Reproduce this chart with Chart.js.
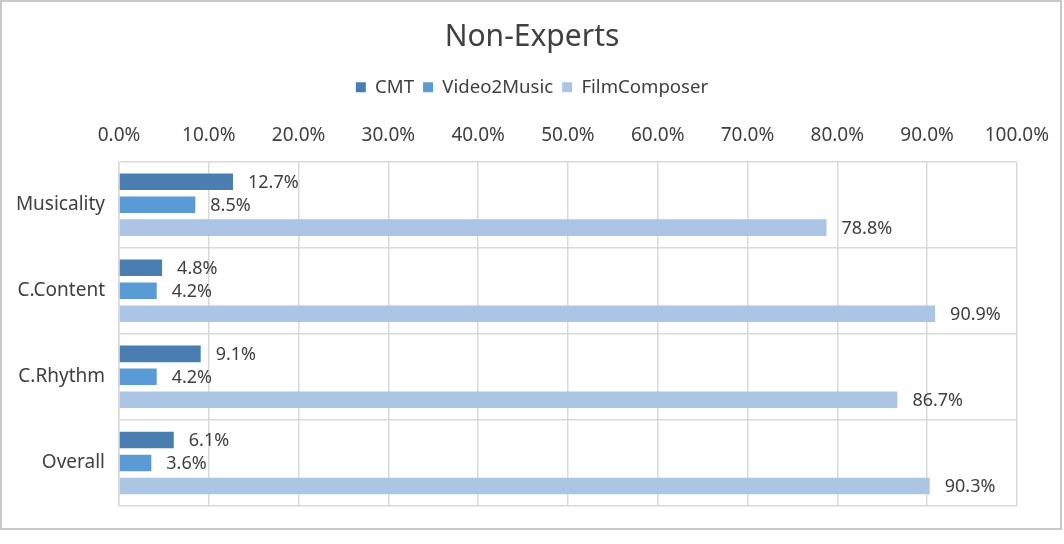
<!DOCTYPE html>
<html>
<head>
<meta charset="utf-8">
<script src="https://cdn.jsdelivr.net/npm/chart.js@4.4.1/dist/chart.umd.min.js"></script>
<style>
  html, body { margin: 0; padding: 0; background: #ffffff; }
  #wrap { position: relative; width: 1064px; height: 544px; }
</style>
</head>
<body>
<div id="wrap"><canvas id="c" width="1064" height="544"></canvas></div>
<script>
const categories = ["Musicality", "C.Content", "C.Rhythm", "Overall"];
const seriesNames = ["CMT", "Video2Music", "FilmComposer"];
const cmtValues = [12.7, 4.8, 9.1, 6.1];
const video2MusicValues = [8.5, 4.2, 4.2, 3.6];
const filmComposerValues = [78.8, 90.9, 86.7, 90.3];
const xTickLabels = ["0.0%", "10.0%", "20.0%", "30.0%", "40.0%", "50.0%", "60.0%", "70.0%", "80.0%", "90.0%", "100.0%"];

const colors = ["#4A7EB0", "#5B9BD5", "#ADC5E5"];
const textColor = "#404040";
const fontFamily = "'Noto Sans', 'Open Sans', sans-serif";

const borderPlugin = {
  id: 'outerBorder',
  afterDraw(chart) {
    const ctx = chart.ctx;
    ctx.save();
    ctx.strokeStyle = '#C9C9C9';
    ctx.lineWidth = 2;
    ctx.strokeRect(1, 1, 1060, 528);
    ctx.restore();
  }
};

const labelPlugin = {
  id: 'valueLabels',
  afterDatasetsDraw(chart) {
    const ctx = chart.ctx;
    ctx.save();
    ctx.font = "18px " + fontFamily;
    ctx.fillStyle = textColor;
    ctx.textAlign = 'left';
    ctx.textBaseline = 'middle';
    chart.data.datasets.forEach((ds, i) => {
      const meta = chart.getDatasetMeta(i);
      meta.data.forEach((bar, j) => {
        const v = ds.data[j];
        ctx.fillText(v.toFixed(1) + '%', bar.x + 15, bar.y + 1);
      });
    });
    ctx.restore();
  }
};

new Chart(document.getElementById('c'), {
  type: 'bar',
  data: {
    labels: categories,
    datasets: [
      { label: seriesNames[0], data: cmtValues, backgroundColor: colors[0] },
      { label: seriesNames[1], data: video2MusicValues, backgroundColor: colors[1] },
      { label: seriesNames[2], data: filmComposerValues, backgroundColor: colors[2] }
    ]
  },
  options: {
    indexAxis: 'y',
    responsive: false,
    animation: false,
    devicePixelRatio: 1,
    categoryPercentage: 0.8,
    barPercentage: 0.72,
    layout: { autoPadding: false, padding: { left: 0, right: 0, top: 0, bottom: 38 } },
    plugins: {
      title: {
        display: true,
        text: 'Non-Experts',
        color: textColor,
        font: { family: fontFamily, size: 30, weight: 'normal' },
        padding: { top: 19, bottom: 14 }
      },
      legend: {
        display: true,
        position: 'top',
        labels: {
          color: textColor,
          font: { family: fontFamily, size: 18.6 },
          boxWidth: 10,
          boxHeight: 10,
          padding: 9
        }
      },
      tooltip: { enabled: false }
    },
    scales: {
      x: {
        position: 'top',
        min: 0,
        max: 100,
        ticks: {
          stepSize: 10,
          color: textColor,
          font: { family: fontFamily, size: 19 },
          padding: 15,
          maxRotation: 0,
          callback: (v, idx) => xTickLabels[idx]
        },
        grid: { color: '#D9D9D9', lineWidth: 1.5, drawTicks: false },
        border: { display: false },
        afterFit(scale) { scale.height = 55; }
      },
      y: {
        ticks: {
          color: textColor,
          font: { family: fontFamily, size: 19 },
          padding: 14
        },
        grid: { color: '#D9D9D9', lineWidth: 1.5, drawTicks: false, offset: true },
        border: { display: true, color: '#D9D9D9', width: 1.5 },
        afterFit(scale) { scale.width = 119; }
      },
      yRightSpacer: {
        type: 'category',
        position: 'right',
        display: true,
        ticks: { display: false },
        grid: { display: false, drawTicks: false },
        border: { display: false },
        afterFit(scale) { scale.width = 45; }
      }
    }
  },
  plugins: [borderPlugin, labelPlugin]
});
</script>
</body>
</html>
